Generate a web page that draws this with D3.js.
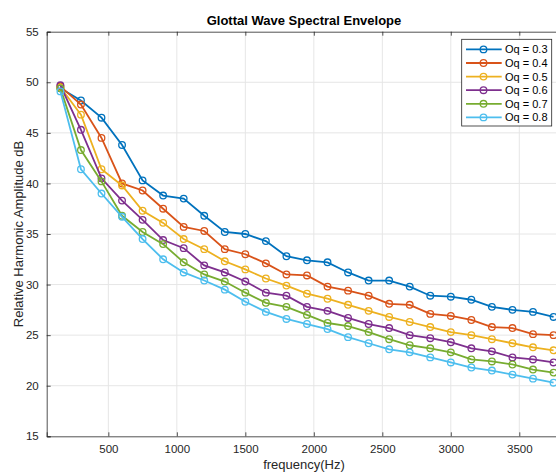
<!DOCTYPE html>
<html>
<head>
<meta charset="utf-8">
<script src="https://cdn.jsdelivr.net/npm/d3@7"></script>
<style>
  html, body { margin: 0; padding: 0; background: #fff; }
  svg { display: block; font-family: "Liberation Sans", Arial, Helvetica, sans-serif; }
</style>
</head>
<body>
<svg id="chart" width="556" height="474"></svg>
<script>
// Harmonic frequencies (Hz): multiples of the 150 Hz fundamental
const frequencies = d3.range(1, 26).map(k => k * 150);

const seriesNames = ["Oq = 0.3", "Oq = 0.4", "Oq = 0.5", "Oq = 0.6", "Oq = 0.7", "Oq = 0.8"];

const oq03 = [49.4, 48.2, 46.5, 43.8, 40.3, 38.8, 38.5, 36.8, 35.2, 35.0, 34.3, 32.8, 32.4, 32.2, 31.2, 30.4,
              30.4, 29.8, 28.9, 28.8, 28.5, 27.8, 27.5, 27.3, 26.8];
const oq04 = [49.6, 47.8, 44.5, 40.0, 39.3, 37.5, 35.7, 35.3, 33.5, 33.0, 32.1, 31.0, 30.9, 29.8, 29.4, 28.9,
              28.1, 28.0, 27.1, 26.9, 26.5, 25.8, 25.7, 25.1, 25.0];
const oq05 = [49.5, 46.8, 41.4, 39.8, 37.3, 36.1, 34.5, 33.5, 32.3, 31.5, 30.6, 29.9, 29.1, 28.6, 28.0, 27.4,
              26.8, 26.3, 25.8, 25.3, 25.0, 24.6, 24.2, 23.8, 23.5];
const oq06 = [49.7, 45.3, 40.5, 38.3, 36.4, 34.4, 33.6, 31.9, 31.2, 30.3, 29.2, 28.9, 27.8, 27.4, 26.7, 26.1,
              25.7, 25.0, 24.7, 24.3, 23.7, 23.4, 22.8, 22.6, 22.3];
const oq07 = [49.4, 43.3, 40.2, 36.8, 35.2, 34.0, 32.2, 31.0, 30.3, 29.2, 28.2, 27.8, 27.0, 26.2, 25.9, 25.3,
              24.6, 24.0, 23.7, 23.3, 22.6, 22.4, 22.1, 21.6, 21.3];
const oq08 = [49.1, 41.4, 39.0, 36.7, 34.5, 32.5, 31.2, 30.4, 29.5, 28.3, 27.3, 26.6, 26.1, 25.6, 24.8, 24.2,
              23.6, 23.3, 22.8, 22.3, 21.8, 21.5, 21.1, 20.7, 20.3];

const seriesValues = [oq03, oq04, oq05, oq06, oq07, oq08];
const seriesColors = ["#0072BD", "#D95319", "#EDB120", "#7E2F8E", "#77AC30", "#4DBEEE"];

const xTicks = [500, 1000, 1500, 2000, 2500, 3000, 3500];
const yTicks = [15, 20, 25, 30, 35, 40, 45, 50, 55];

const svg = d3.select("#chart");
const axisColor = "#262626";

// Plot box (right side runs past the window edge)
const plotLeft = 46.7, plotTop = 31.7, plotBottom = 436.3, plotRight = 560.4;

const x = d3.scaleLinear().domain([50, 3800]).range([plotLeft, plotRight]);
const y = d3.scaleLinear().domain([15, 55]).range([plotBottom, plotTop]);

// Grid
const grid = svg.append("g");
grid.selectAll("line.gx").data(xTicks).join("line")
  .attr("x1", d => x(d)).attr("x2", d => x(d))
  .attr("y1", plotTop).attr("y2", plotBottom)
  .attr("stroke", "#e6e6e6").attr("stroke-width", 1);
grid.selectAll("line.gy").data(yTicks.slice(1, -1)).join("line")
  .attr("x1", plotLeft).attr("x2", plotRight)
  .attr("y1", d => y(d)).attr("y2", d => y(d))
  .attr("stroke", "#e6e6e6").attr("stroke-width", 1);

// Axes with inward ticks
const xAxis = d3.axisBottom(x).tickValues(xTicks).tickSize(-4).tickPadding(9).tickFormat(d3.format("d"));
const yAxis = d3.axisLeft(y).tickValues(yTicks).tickSize(-4).tickPadding(8).tickFormat(d3.format("d"));
const xTop = d3.axisTop(x).tickValues(xTicks).tickSize(-4).tickFormat("");

function styleAxis(g) {
  g.select(".domain").attr("stroke", axisColor).attr("stroke-width", 0.8);
  g.selectAll(".tick line").attr("stroke", axisColor).attr("stroke-width", 0.8);
  g.selectAll(".tick text").attr("fill", axisColor).style("font-size", "11.5px")
    .style("font-family", "Liberation Sans, Arial, sans-serif");
}

svg.append("g").attr("transform", `translate(0,${plotBottom})`).call(xAxis).call(styleAxis);
svg.append("g").attr("transform", `translate(${plotLeft},0)`).call(yAxis).call(styleAxis);
svg.append("g").attr("transform", `translate(0,${plotTop})`).call(xTop).call(styleAxis);

// Series
const line = d3.line().x((d, i) => x(frequencies[i])).y(d => y(d));
const plot = svg.append("g");
seriesValues.forEach((vals, s) => {
  const g = plot.append("g");
  g.append("path").datum(vals).attr("d", line)
    .attr("fill", "none").attr("stroke", seriesColors[s]).attr("stroke-width", 1.8);
  g.selectAll("circle").data(vals).join("circle")
    .attr("cx", (d, i) => x(frequencies[i])).attr("cy", d => y(d)).attr("r", 3.3)
    .attr("fill", "none").attr("stroke", seriesColors[s]).attr("stroke-width", 1.3);
});

// Title and labels
svg.append("text").attr("x", 304).attr("y", 25).attr("text-anchor", "middle")
  .style("font-size", "13px").style("font-weight", "bold").attr("fill", "#000")
  .text("Glottal Wave Spectral Envelope");
svg.append("text").attr("x", 304).attr("y", 469).attr("text-anchor", "middle")
  .style("font-size", "13px").attr("fill", axisColor).text("frequency(Hz)");
svg.append("text").attr("transform", `translate(22.5,${(plotTop + plotBottom) / 2}) rotate(-90)`)
  .attr("text-anchor", "middle").style("font-size", "13px").attr("fill", axisColor)
  .text("Relative Harmonic Amplitude dB");

// Legend
const lg = svg.append("g");
lg.append("rect").attr("x", 461.7).attr("y", 39.3).attr("width", 90).attr("height", 86.7)
  .attr("fill", "#fff").attr("stroke", axisColor).attr("stroke-width", 0.8);
seriesNames.forEach((name, s) => {
  const ly = 49.4 + s * 13.6;
  lg.append("line").attr("x1", 466).attr("x2", 501.7).attr("y1", ly).attr("y2", ly)
    .attr("stroke", seriesColors[s]).attr("stroke-width", 1.8);
  lg.append("circle").attr("cx", 483.5).attr("cy", ly).attr("r", 3.3)
    .attr("fill", "none").attr("stroke", seriesColors[s]).attr("stroke-width", 1.3);
  lg.append("text").attr("x", 505).attr("y", ly + 4).style("font-size", "11px")
    .attr("fill", "#000").text(name);
});
</script>
</body>
</html>
